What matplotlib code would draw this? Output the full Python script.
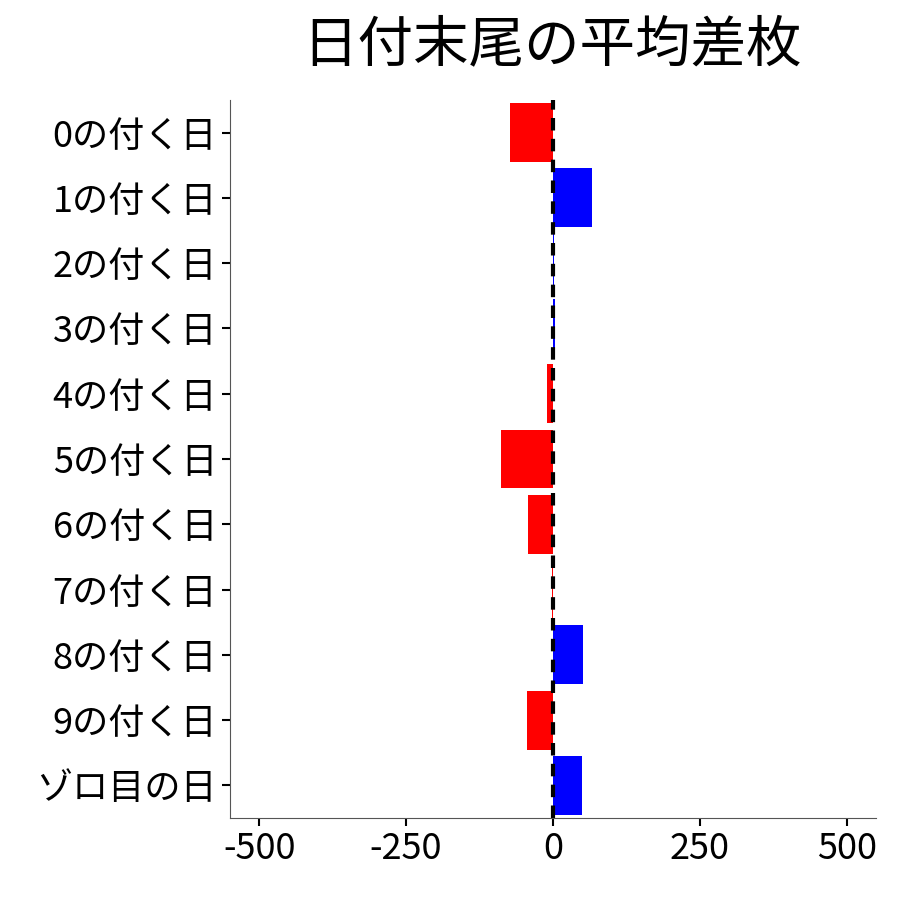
import matplotlib
matplotlib.use("Agg")
import matplotlib.pyplot as plt

plt.rcParams['font.family'] = ['Noto Sans CJK JP', 'DejaVu Sans']

categories = ["0の付く日","1の付く日","2の付く日","3の付く日","4の付く日","5の付く日",
              "6の付く日","7の付く日","8の付く日","9の付く日","ゾロ目の日"]
values = [-73, 66, 2, 3, -10, -88, -42, -2, 51, -44, 49]
ticks = [-500, -250, 0, 250, 500]

fig = plt.figure(figsize=(9, 9), dpi=100)
ax = fig.add_axes([0.256, 0.091, 0.717, 0.798])
y = list(range(len(categories)))
colors = ['red' if v < 0 else 'blue' for v in values]
ax.barh(y, values, height=0.9, color=colors)
ax.axvline(0, color='black', linestyle='--', linewidth=3, dashes=(3, 2))
ax.set_xlim(-549, 549)
ax.set_ylim(len(categories) - 0.5, -0.5)
ax.set_yticks(y)
ax.set_yticklabels(categories)
ax.set_xticks(ticks)
ax.set_xticklabels([str(t) for t in ticks])
ax.tick_params(labelsize=26, length=6, width=1.5, colors='black')
for s in ['top', 'right']:
    ax.spines[s].set_visible(False)
for s in ['left', 'bottom']:
    ax.spines[s].set_color('#555555')
fig.text(0.613, 0.95, "日付末尾の平均差枚", fontsize=40, ha='center', va='center')
fig.savefig("out.png", dpi=100)
